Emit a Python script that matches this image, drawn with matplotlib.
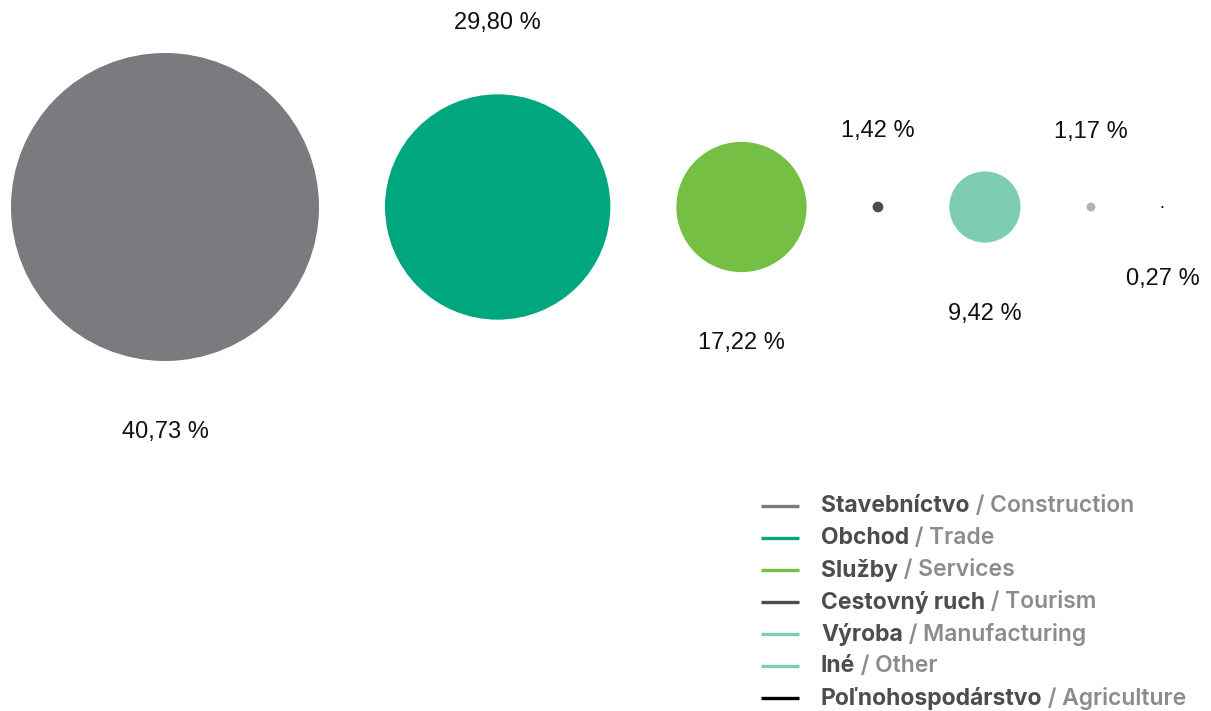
import matplotlib
matplotlib.use("Agg")
import matplotlib.pyplot as plt
from matplotlib.patches import Circle

# Data
names_sk = ["Stavebníctvo", "Obchod", "Služby", "Cestovný ruch", "Výroba", "Iné", "Poľnohospodárstvo"]
names_en = ["Construction", "Trade", "Services", "Tourism", "Manufacturing", "Other", "Agriculture"]
values = [40.73, 29.80, 17.22, 1.42, 9.42, 1.17, 0.27]
labels = ["40,73 %", "29,80 %", "17,22 %", "1,42 %", "9,42 %", "1,17 %", "0,27 %"]
bubble_colors = ["#7a7b7f", "#00a67e", "#74bf44", "#4d4d4f", "#7fccb5", "#b3b3b5", "#000000"]
legend_colors = ["#7a7b7f", "#00a67e", "#74bf44", "#4d4d4f", "#7fccb5", "#7fccb5", "#000000"]

W, H = 1211, 711
fig = plt.figure(figsize=(W / 100, H / 100), dpi=100)
ax = fig.add_axes([0, 0, 1, 1])
ax.set_xlim(0, W)
ax.set_ylim(H, 0)
ax.set_aspect("equal")
ax.axis("off")

scale = 154 / 40.73   # pixel radius per percent
gap = 66
cy = 207
x_prev = None
r_prev = None
for i, v in enumerate(values):
    r = v * scale
    if x_prev is None:
        cx = 11 + r
    else:
        cx = x_prev + r_prev + gap + r
    ax.add_patch(Circle((cx, cy), r, facecolor=bubble_colors[i], edgecolor="none"))
    if i % 2 == 0:
        ty = cy + r + 71
    else:
        ty = cy - r - 71
    ax.text(cx, ty, labels[i], ha="center", va="center", fontsize=17,
            family="Liberation Sans", color="#111111")
    x_prev, r_prev = cx, r

# Legend
ly0 = 506
dy = 32
for i in range(len(names_sk)):
    y = ly0 + i * dy
    ax.plot([761, 799], [y, y], color=legend_colors[i], lw=2.4, solid_capstyle="butt")
    t = ax.text(821, y, names_sk[i], ha="left", va="center", fontsize=16.5,
                family="Inter", fontweight="bold", color="#4d4d4f")
    ax.annotate(" / " + names_en[i], xy=(1, 0.5), xycoords=t, ha="left", va="center",
                fontsize=16.5, family="Inter", fontweight="semibold", color="#8c8c8e")

fig.savefig("out.png", dpi=100)
